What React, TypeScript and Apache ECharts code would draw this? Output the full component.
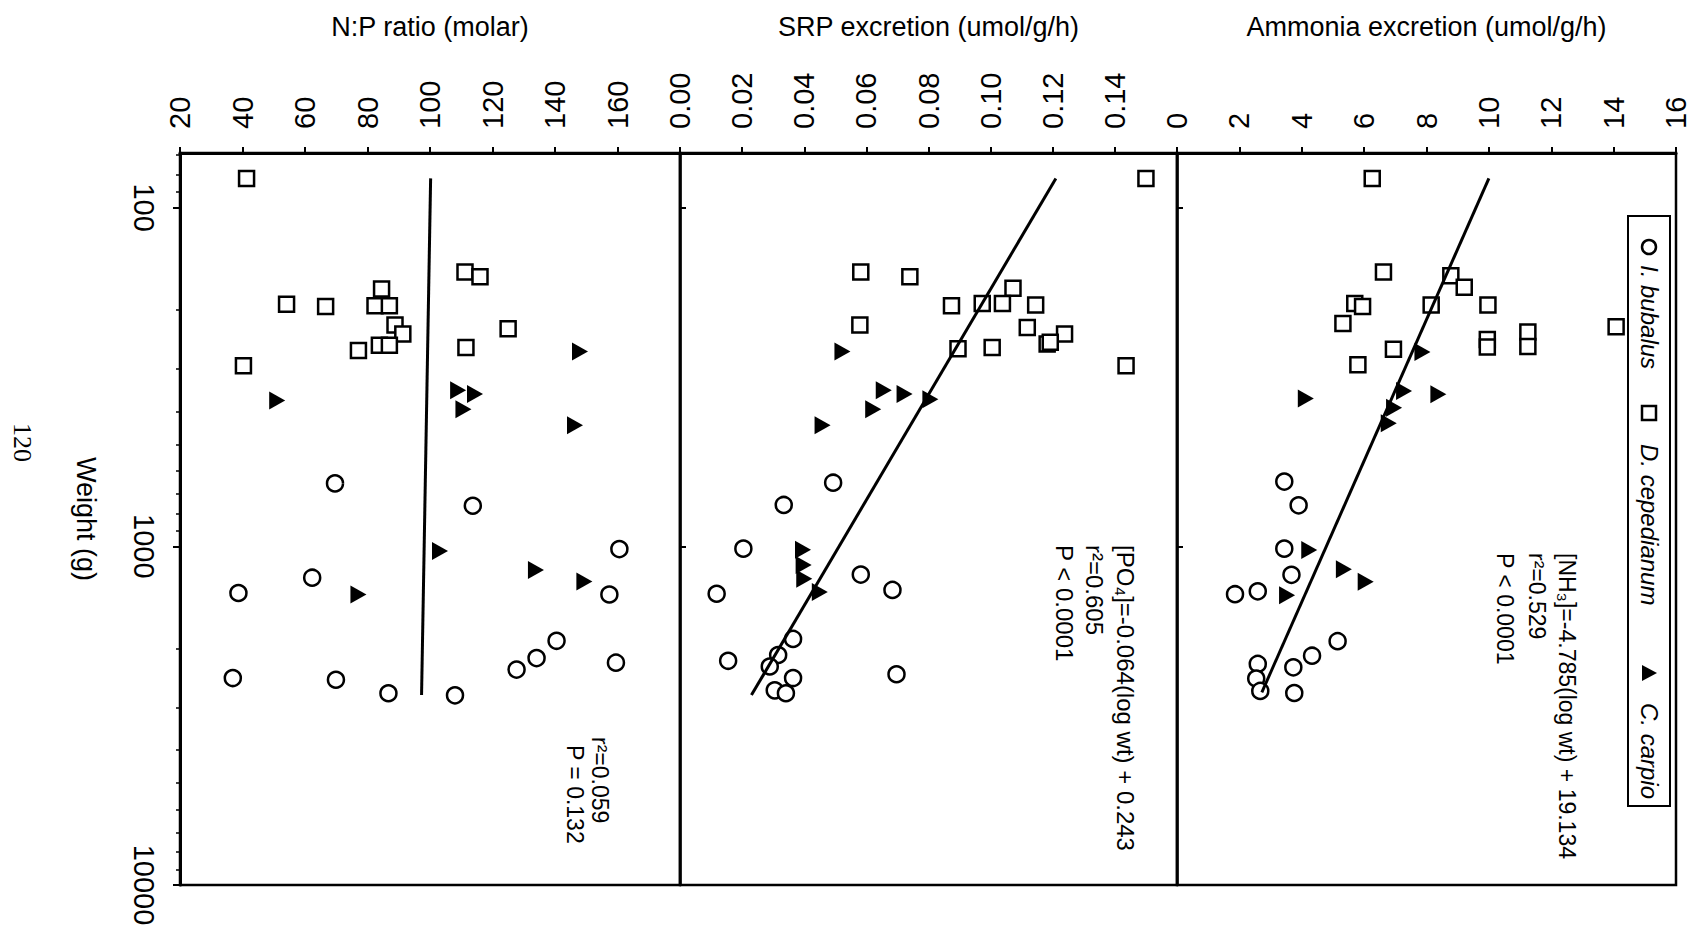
import React, { useEffect, useRef } from "react";
import * as echarts from "echarts";

const FONT = "'Liberation Sans', Arial, Helvetica, sans-serif";

// Weight axis (g), log scale
const weightMin = 69;
const weightMax = 10000;
const weightMajorTicks = [100, 1000, 10000];
const weightMinorTicks = [70, 80, 90, 200, 300, 400, 500, 600, 700, 800, 900, 2000, 3000, 4000, 5000, 6000, 7000, 8000, 9000];

// Panel titles (value axes)
const panelTitles = ["N:P ratio (molar)", "SRP excretion (umol/g/h)", "Ammonia excretion (umol/g/h)"];
const speciesNames = ["I. bubalus", "D. cepedianum", "C. carpio"];

// Value-axis ranges [min, max, interval]
const npRange = [20, 180, 20];
const srpRange = [0, 0.16, 0.02];
const nh3Range = [0, 16, 2];

// ---- N:P ratio (molar): [N:P, weight g]
const npBubalus = [
  [69.6, 652], [113.7, 759], [160.6, 1019], [62.3, 1238], [38.7, 1374], [157.4, 1388], [140.5, 1901],
  [134.1, 2138], [127.7, 2312], [159.5, 2206], [36.9, 2449], [69.9, 2478], [86.7, 2716], [108, 2754],
];
const npCepedianum = [
  [41.3, 82], [111.2, 155], [116, 160], [84.5, 174], [54.1, 193], [66.6, 196], [82.4, 195], [87, 195],
  [88.8, 222], [91.3, 236], [125, 228], [77.1, 264], [83.8, 255], [87, 255], [111.5, 259], [40.3, 293],
];
const npCarpio = [
  [148, 266], [51.1, 371], [109, 346], [114.4, 355], [110.7, 394], [146.4, 439], [103.2, 1032],
  [133.9, 1175], [77.1, 1388], [149.4, 1270],
];
const npFit = [[100.2, 82], [97.3, 2750]];

// ---- SRP excretion (umol/g/h): [SRP, weight g]
const srpBubalus = [
  [0.0493, 649], [0.0334, 755], [0.0204, 1016], [0.0582, 1212], [0.0684, 1345], [0.0118, 1381],
  [0.0364, 1877], [0.0316, 2094], [0.0289, 2264], [0.0155, 2178], [0.0364, 2449], [0.0305, 2663],
  [0.0341, 2716], [0.0697, 2387],
];
const srpCepedianum = [
  [0.150, 82], [0.0582, 155], [0.074, 160], [0.1072, 173], [0.0874, 195], [0.0973, 192], [0.1038, 192],
  [0.1145, 194], [0.0579, 222], [0.1118, 226], [0.1238, 236], [0.1182, 253], [0.1192, 250], [0.0895, 261],
  [0.1005, 259], [0.1436, 293],
];
const srpCarpio = [
  [0.0523, 266], [0.0656, 346], [0.0723, 355], [0.0622, 394], [0.0806, 368], [0.0459, 439],
  [0.0396, 1023], [0.0398, 1135], [0.0400, 1247], [0.0450, 1365],
];
const srpFit = [[0.121, 82], [0.023, 2750]];

// ---- Ammonia excretion (umol/g/h): [NH3, weight g]
const nh3Bubalus = [
  [3.44, 644], [3.9, 757], [3.44, 1016], [3.67, 1214], [2.59, 1358], [1.86, 1385], [5.15, 1906],
  [4.33, 2104], [3.73, 2277], [2.59, 2225], [2.54, 2457], [2.67, 2673], [3.76, 2711],
];
const nh3Cepedianum = [
  [6.26, 82], [6.62, 155], [8.78, 159], [9.21, 172], [9.97, 194], [8.15, 194], [5.7, 192], [5.95, 196],
  [5.32, 220], [14.08, 225], [6.94, 262], [5.8, 291], [9.95, 245], [9.95, 258], [11.25, 233], [11.25, 257],
];
const nh3Carpio = [
  [7.87, 267], [7.28, 348], [8.38, 356], [4.13, 366], [6.96, 390], [6.79, 433], [4.24, 1025],
  [5.35, 1169], [6.05, 1273], [3.53, 1396],
];
const nh3Fit = [[10.0, 82], [2.72, 2700]];

// Annotation texts
const nh3Stats = ["[NH\u2083]=-4.785(log wt) + 19.134", "r\u00b2=0.529", "P < 0.0001"];
const srpStats = ["[PO\u2084]=-0.064(log wt) + 0.243", "r\u00b2=0.605", "P < 0.0001"];
const npStats = ["r\u00b2=0.059", "P = 0.132"];
const pageNumber = "120";

export default function App() {
  const ref = useRef<HTMLDivElement>(null);

  useEffect(() => {
    if (!ref.current) return;
    const chart = echarts.init(ref.current, null, { renderer: "svg" });

    const grids = [
      { left: 172, width: 500 },
      { left: 672, width: 497 },
      { left: 1169, width: 499 },
    ];
    const ranges = [npRange, srpRange, nh3Range];
    const formatters = [
      (v: number) => (v >= 179 ? "" : String(v)),
      (v: number) => (v >= 0.159 ? "" : v.toFixed(2)),
      (v: number) => String(v),
    ];
    const panels = [
      [npBubalus, npCepedianum, npCarpio, npFit],
      [srpBubalus, srpCepedianum, srpCarpio, srpFit],
      [nh3Bubalus, nh3Cepedianum, nh3Carpio, nh3Fit],
    ];

    const xAxis = grids.map((g, i) => ({
      type: "value",
      gridIndex: i,
      position: "top",
      min: ranges[i][0],
      max: ranges[i][1],
      interval: ranges[i][2],
      splitLine: { show: false },
      axisLine: { show: true, lineStyle: { color: "#000", width: 3 } },
      axisTick: { show: true, inside: false, length: 6, lineStyle: { color: "#000", width: 2 } },
      axisLabel: {
        rotate: -90,
        margin: 24,
        fontSize: 29,
        fontFamily: FONT,
        color: "#000",
        formatter: formatters[i],
        showMinLabel: true,
        showMaxLabel: true,
        hideOverlap: false,
      },
      name: panelTitles[i],
      nameLocation: "middle",
      nameGap: 113,
      nameTextStyle: { fontSize: 27, fontFamily: FONT, color: "#000" },
    }));

    const baseLog = {
      type: "log",
      logBase: 10,
      min: weightMin,
      max: weightMax,
      inverse: true,
      splitLine: { show: false },
    };

    const yAxis: any[] = [
      {
        ...baseLog,
        gridIndex: 0,
        position: "left",
        axisLine: { show: true, lineStyle: { color: "#000", width: 3 } },
        axisTick: { show: true, inside: false, length: 7, customValues: weightMajorTicks, lineStyle: { color: "#000", width: 2 } },
        axisLabel: {
          customValues: weightMajorTicks,
          rotate: -90,
          margin: 22,
          fontSize: 29,
          fontFamily: FONT,
          color: "#000",
          formatter: (v: number) => String(Math.round(v)),
        },
        name: "Weight (g)",
        nameLocation: "middle",
        nameRotate: -90,
        nameGap: 81,
        nameTextStyle: { fontSize: 27, fontFamily: FONT, color: "#000" },
      },
      {
        ...baseLog,
        gridIndex: 1,
        position: "left",
        axisLine: { show: true, lineStyle: { color: "#000", width: 2.5 } },
        axisTick: { show: true, inside: true, length: 6, customValues: weightMajorTicks, lineStyle: { color: "#000", width: 2 } },
        axisLabel: { show: false },
      },
      {
        ...baseLog,
        gridIndex: 2,
        position: "left",
        axisLine: { show: true, lineStyle: { color: "#000", width: 2.5 } },
        axisTick: { show: true, inside: true, length: 6, customValues: weightMajorTicks, lineStyle: { color: "#000", width: 2 } },
        axisLabel: { show: false },
      },
      {
        ...baseLog,
        gridIndex: 0,
        position: "left",
        axisLine: { show: false },
        axisTick: { show: true, inside: false, length: 4, customValues: weightMinorTicks, lineStyle: { color: "#000", width: 1.5 } },
        axisLabel: { show: false },
      },
    ];

    const series: any[] = [];
    panels.forEach((p, i) => {
      series.push({
        type: "scatter",
        name: speciesNames[0],
        xAxisIndex: i,
        yAxisIndex: i,
        data: p[0],
        symbol: "circle",
        symbolSize: 16,
        itemStyle: { color: "#fff", borderColor: "#000", borderWidth: 2.5, opacity: 1 },
        silent: true,
        z: 3,
      });
      series.push({
        type: "scatter",
        name: speciesNames[1],
        xAxisIndex: i,
        yAxisIndex: i,
        data: p[1],
        symbol: "rect",
        symbolSize: 15,
        itemStyle: { color: "#fff", borderColor: "#000", borderWidth: 2.5, opacity: 1 },
        silent: true,
        z: 3,
      });
      series.push({
        type: "scatter",
        name: speciesNames[2],
        xAxisIndex: i,
        yAxisIndex: i,
        data: p[2],
        symbol: "triangle",
        symbolSize: [18, 16],
        symbolRotate: -90,
        itemStyle: { color: "#000", opacity: 1 },
        silent: true,
        z: 3,
      });
      series.push({
        type: "line",
        name: "fit" + i,
        xAxisIndex: i,
        yAxisIndex: i,
        data: p[3],
        symbol: "none",
        lineStyle: { color: "#000", width: 3 },
        silent: true,
        z: 4,
      });
    });

    const rotText = (text: string, x: number, y: number, size: number, extra: any = {}) => ({
      type: "text",
      x,
      y,
      rotation: -Math.PI / 2,
      silent: true,
      style: {
        text,
        fill: "#000",
        fontSize: size,
        fontFamily: FONT,
        align: "left",
        textAlign: "left",
        verticalAlign: "middle",
        textVerticalAlign: "middle",
        ...extra,
      },
    });

    const graphic: any[] = [
      {
        type: "rect",
        silent: true,
        shape: { x: 1620, y: 208, width: 42, height: 590 },
        style: { fill: "#fff", stroke: "#000", lineWidth: 2 },
        z: 10,
      },
      {
        type: "circle",
        silent: true,
        shape: { cx: 1641, cy: 239, r: 7 },
        style: { fill: "#fff", stroke: "#000", lineWidth: 2.5 },
        z: 11,
      },
      {
        type: "rect",
        silent: true,
        shape: { x: 1634, y: 398, width: 14, height: 14 },
        style: { fill: "#fff", stroke: "#000", lineWidth: 2.5 },
        z: 11,
      },
      {
        type: "polygon",
        silent: true,
        shape: { points: [[1634, 657], [1634, 673], [1649, 665]] },
        style: { fill: "#000" },
        z: 11,
      },
      { ...rotText(speciesNames[0], 1641, 257, 24, { fontStyle: "italic" }), z: 11 },
      { ...rotText(speciesNames[1], 1641, 436, 24, { fontStyle: "italic" }), z: 11 },
      { ...rotText(speciesNames[2], 1641, 695, 24, { fontStyle: "italic" }), z: 11 },
      rotText(nh3Stats[0], 1559, 545, 23),
      rotText(nh3Stats[1], 1529, 545, 23),
      rotText(nh3Stats[2], 1497, 545, 23),
      rotText(srpStats[0], 1117, 537, 24),
      rotText(srpStats[1], 1086, 537, 24),
      rotText(srpStats[2], 1056, 537, 24),
      rotText(npStats[0], 592, 729, 23),
      rotText(npStats[1], 567, 737, 23),
      rotText(pageNumber, 14, 415, 26, { fontFamily: "'Liberation Serif', 'Times New Roman', serif" }),
    ];

    chart.setOption({
      animation: false,
      backgroundColor: "#fff",
      grid: grids.map((g) => ({
        left: g.left,
        width: g.width,
        top: 145,
        height: 732,
        show: true,
        borderColor: "#000",
        borderWidth: 2.5,
        backgroundColor: "transparent",
        containLabel: false,
        outerBoundsMode: "none",
      })),
      xAxis,
      yAxis,
      series,
      graphic,
      tooltip: { show: false },
    });

    return () => {
      chart.dispose();
    };
  }, []);

  return (
    <div
      ref={ref}
      style={{ position: "fixed", left: 0, top: 0, width: 1697, height: 935, background: "#fff" }}
    />
  );
}
